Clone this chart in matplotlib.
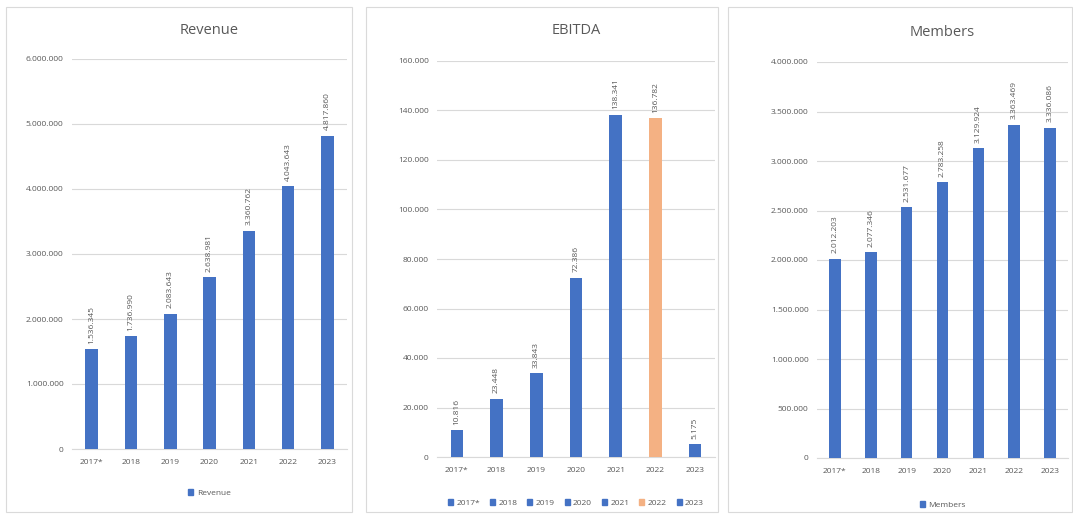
import matplotlib
matplotlib.use("Agg")
import matplotlib.pyplot as plt
from matplotlib.patches import Rectangle, Patch
from matplotlib.ticker import FuncFormatter

plt.rcParams['font.family'] = ['Open Sans', 'DejaVu Sans']

years = ["2017*", "2018", "2019", "2020", "2021", "2022", "2023"]
revenue = [1536345, 1736990, 2083643, 2638981, 3360762, 4043643, 4817860]
ebitda = [10816, 23448, 33843, 72386, 138341, 136782, 5175]
members = [2012203, 2077346, 2531677, 2783258, 3129924, 3363469, 3336086]

BLUE = "#4472C4"
ORANGE = "#F4B183"
TXT = "#595959"
GRID = "#D9D9D9"
ebitda_colors = [BLUE, BLUE, BLUE, BLUE, BLUE, ORANGE, BLUE]

W, H = 1073, 516
fig = plt.figure(figsize=(W / 100, H / 100), dpi=100)

def fx(px):
    return px / W

def fy(py):
    return 1 - py / H

def dots(v, pos=None):
    return f"{int(round(v)):,}".replace(",", ".")

# panel borders
for x0, x1 in [(6, 352), (366, 718), (728, 1072)]:
    fig.add_artist(Rectangle((fx(x0), fy(512)), fx(x1) - fx(x0), fy(7) - fy(512),
                             transform=fig.transFigure, fill=False,
                             edgecolor="#DADADA", linewidth=0.8))

def panel(x0, x1, ytop, ybot, values, colors, ymax, step, title, title_y,
          legend_labels, legend_colors, legend_y, label_off):
    ax = fig.add_axes([fx(x0), fy(ybot), fx(x1) - fx(x0), fy(ytop) - fy(ybot)])
    xs = list(range(len(years)))
    bars = ax.bar(xs, values, width=0.32, color=colors, zorder=3)
    ax.set_xlim(-0.5, len(years) - 0.5)
    ax.set_ylim(0, ymax)
    ax.set_yticks([i * step for i in range(int(ymax / step) + 1)])
    ax.yaxis.set_major_formatter(FuncFormatter(dots))
    ax.set_xticks(xs)
    ax.set_xticklabels(years)
    ax.tick_params(axis='both', length=0, labelsize=6, colors=TXT)
    ax.tick_params(axis='x', pad=7)
    ax.tick_params(axis='y', pad=6)
    ax.grid(axis='y', color=GRID, linewidth=0.8, zorder=0)
    for s in ["top", "right", "left"]:
        ax.spines[s].set_visible(False)
    ax.spines["bottom"].set_color(GRID)
    for b, v in zip(bars, values):
        ax.annotate(dots(v), (b.get_x() + b.get_width() / 2, v),
                    xytext=(0, label_off), textcoords="offset points",
                    rotation=90, ha="center", va="bottom", fontsize=6, color=TXT)
    fig.text(fx((x0 + x1) / 2), fy(title_y), title, ha="center", va="center",
             fontsize=10.5, color=TXT)
    handles = [Patch(color=c) for c in legend_colors]
    fig.legend(handles, legend_labels, loc="center",
               bbox_to_anchor=(fx((x0 + x1) / 2), fy(legend_y)),
               ncol=len(legend_labels), frameon=False, fontsize=6,
               labelcolor=TXT, handlelength=0.6, handleheight=0.6,
               handletextpad=0.4, columnspacing=1.2)
    return ax

panel(72, 347, 59, 449, revenue, BLUE, 6000000, 1000000, "Revenue", 30,
      ["Revenue"], [BLUE], 493, 4)
panel(437, 715, 61, 457, ebitda, ebitda_colors, 160000, 20000, "EBITDA", 31,
      years, ebitda_colors, 503, 4)
panel(817, 1068, 62, 458, members, BLUE, 4000000, 500000, "Members", 33,
      ["Members"], [BLUE], 505, 4)

fig.savefig("out.png", dpi=100, facecolor="white")
